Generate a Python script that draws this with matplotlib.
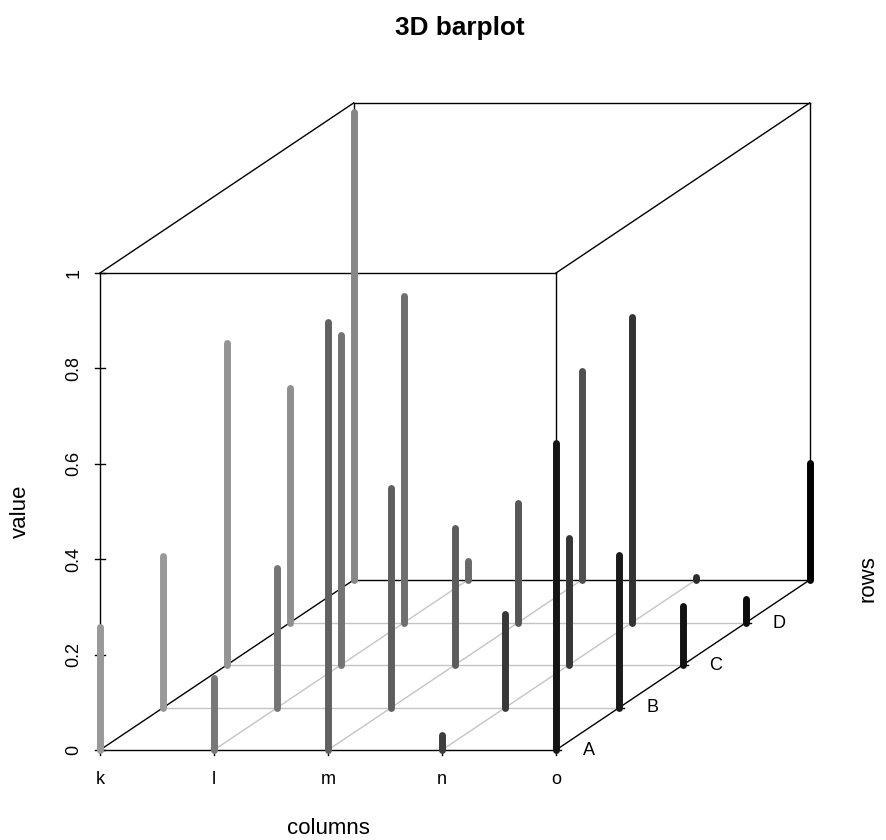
import matplotlib
matplotlib.use("Agg")
import matplotlib.pyplot as plt

plt.rcParams['font.family'] = ['Liberation Sans', 'DejaVu Sans']

columns = ['k', 'l', 'm', 'n', 'o']
rows = ['A', 'B', 'C', 'D', 'E']
value_ticks = [0, 0.2, 0.4, 0.6, 0.8, 1]
value_labels = ['0', '0.2', '0.4', '0.6', '0.8', '1']

# one list per row, front (A) to back (E), columns k..o
row_a = [0.258, 0.150, 0.897, 0.032, 0.644]
row_b = [0.317, 0.293, 0.461, 0.195, 0.319]
row_c = [0.675, 0.691, 0.288, 0.266, 0.123]
row_d = [0.492, 0.685, 0.251, 0.640, 0.050]
row_e = [0.982, 0.039, 0.439, 0.006, 0.245]
values = [row_a, row_b, row_c, row_d, row_e]

# grey level of each bar
grey_a = [0.60, 0.47, 0.38, 0.24, 0.08]
grey_b = [0.60, 0.46, 0.37, 0.22, 0.10]
grey_c = [0.58, 0.45, 0.36, 0.21, 0.07]
grey_d = [0.56, 0.43, 0.34, 0.20, 0.05]
grey_e = [0.53, 0.41, 0.31, 0.17, 0.00]
greys = [grey_a, grey_b, grey_c, grey_d, grey_e]


def project(col, row, val):
    # oblique view, result in figure pixels
    x = 100 + col * 114 + row * 63.4
    y = 750 - row * 42.5 - val * 477
    return x, y


fig = plt.figure(figsize=(8.87, 8.4), dpi=100)
ax = fig.add_axes([0, 0, 1, 1])
ax.set_xlim(0, 887)
ax.set_ylim(840, 0)
ax.axis('off')


def line3d(a, b, **kw):
    xa, ya = project(*a)
    xb, yb = project(*b)
    ax.plot([xa, xb], [ya, yb], **kw)


# floor grid
for c in range(1, 4):
    line3d((c, 0, 0), (c, 4, 0), color='#c4c4c4', lw=1.0, zorder=1)
for r in range(1, 4):
    line3d((0, r, 0), (4, r, 0), color='#c4c4c4', lw=1.0, zorder=1)

# box
box = dict(color='black', lw=1.0, zorder=2, solid_capstyle='projecting')
for z in [0, 1]:
    line3d((0, 0, z), (4, 0, z), **box)
    line3d((0, 4, z), (4, 4, z), **box)
    line3d((0, 0, z), (0, 4, z), **box)
    line3d((4, 0, z), (4, 4, z), **box)
line3d((0, 0, 0), (0, 0, 1), **box)
line3d((4, 0, 0), (4, 0, 1), **box)
line3d((0, 4, 0), (0, 4, 1), **box)
line3d((4, 4, 0), (4, 4, 1), **box)

# bars, back to front
for r in range(4, -1, -1):
    for c in range(5):
        g = greys[r][c]
        line3d((c, r, 0), (c, r, values[r][c]), color=(g, g, g), lw=5.0,
               solid_capstyle='round', zorder=3)

# value axis ticks
for v, lab in zip(value_ticks, value_labels):
    x, y = project(0, 0, v)
    ax.plot([x - 5, x + 5], [y, y], color='black', lw=1.0, zorder=2)
    ax.text(74, y, lab, rotation=90, ha='center', va='center', fontsize=13)

# column ticks
for c, lab in enumerate(columns):
    x, y = project(c, 0, 0)
    ax.plot([x, x], [y, y + 5], color='black', lw=1.0, zorder=2)
    ax.text(x, 780, lab, ha='center', va='center', fontsize=13)

# row ticks, E has no label in the picture
for r, lab in enumerate(rows[:4]):
    x, y = project(4, r, 0)
    ax.plot([x, x + 5], [y, y], color='black', lw=1.0, zorder=2)
    ax.text(x + 33, y + 0.5, lab, ha='center', va='center', fontsize=13)

ax.text(460, 35, '3D barplot', ha='center', va='baseline', fontsize=18.8, fontweight='bold')
ax.text(328, 834.5, 'columns', ha='center', va='baseline', fontsize=16)
ax.text(20, 511, 'value', rotation=90, ha='center', va='center', fontsize=16)
ax.text(868, 579, 'rows', rotation=90, ha='center', va='center', fontsize=16)

fig.savefig('out.png', dpi=100)
